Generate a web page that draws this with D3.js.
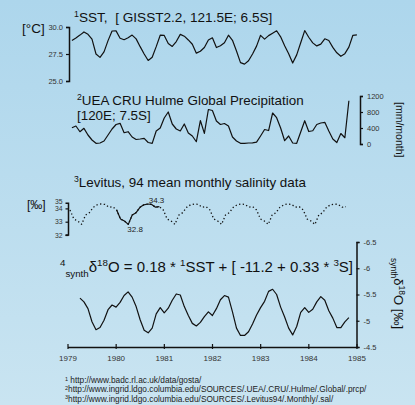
<!DOCTYPE html>
<html>
<head>
<meta charset="utf-8">
<script src="https://cdn.jsdelivr.net/npm/d3@7"></script>
<style>
  body { margin: 0; }
  svg { display: block; font-family: "Liberation Sans", Arial, sans-serif; }
  text { white-space: pre; }
</style>
</head>
<body>
<svg id="chart" width="415" height="405"></svg>
<script>
// monthly values, first month plotted just after Jan 1979
const sst = [28.76, 28.99, 29.25, 29.54, 29.32, 28.87, 27.5, 27.19, 27.7, 28.74, 29.63, 29.64,
  28.96, 28.82, 29.0, 29.25, 28.9, 28.18, 27.5, 26.9, 27.2, 28.18, 29.24, 29.22,
  28.48, 28.2, 28.65, 29.32, 29.15, 28.8, 28.4, 27.58, 27.75, 28.1, 28.8, 29.0,
  28.1, 28.27, 28.55, 29.24, 28.77, 27.78, 26.7, 26.56, 26.87, 27.5, 28.23, 29.23,
  28.88, 29.2, 29.42, 29.65, 29.09, 28.26, 27.53, 26.66, 27.42, 28.54, 29.67, 29.05,
  28.53, 28.25, 28.41, 28.91, 28.75, 28.11, 27.61, 27.29, 27.53, 28.14, 29.23, 29.27]

const precip = [407, 450, 307, 392, 225, 100, 17, 25, 75, 225, 375, 487,
  517, 282, 307, 175, 112, 125, 142, 37, 17, 325, 400, 650,
  800, 500, 375, 325, 500, 275, 200, 57, 587, 267, 862, 837,
  575, 487, 512, 450, 175, 75, 17, 17, 25, 30, 45, 200,
  362, 337, 775, 657, 400, 82, 200, 25, 17, 300, 582, 312,
  332, 487, 525, 542, 325, 125, 37, 262, 157, 1082]

// Levitus 94 monthly climatology, repeated for every year
const salClim = [33.88, 33.20, 33.05, 32.80, 33.50, 33.68, 34.08, 34.27, 34.33, 34.30, 34.09, 34.13]
const salYears = 6
const salSolidYear = 1

// synthetic d18O, starts third month
const synth = [-5.43, -5.36, -5.23, -4.98, -4.83, -4.87, -5.01, -5.21, -5.30, -5.26, -5.35, -5.48,
  -5.55, -5.45, -5.27, -5.02, -4.82, -4.77, -4.86, -5.13, -5.25, -5.15, -5.24, -5.39,
  -5.51, -5.49, -5.27, -5.10, -4.95, -4.90, -4.97, -5.08, -5.17, -5.10, -5.23, -5.40,
  -5.48, -5.45, -5.17, -4.86, -4.72, -4.72, -4.79, -4.94, -5.11, -5.25, -5.37, -5.56,
  -5.60, -5.50, -5.26, -5.07, -4.86, -4.73, -4.89, -5.16, -5.25, -5.16, -5.22, -5.36,
  -5.46, -5.39, -5.19, -5.05, -4.87, -4.87, -4.98, -5.06]
const synthStart = 2

const years = [1979, 1980, 1981, 1982, 1983, 1984, 1985]
const sstTicks = [25, 27.5, 30]
const preTicks = [0, 400, 800, 1200]
const salTicks = [32, 33, 34]
const synTicks = [-6.5, -6, -5.5, -5, -4.5]
const footnotes = [
  ["1", " http://www.badc.rl.ac.uk/data/gosta/"],
  ["2", "http://www.ingrid.ldgo.columbia.edu/SOURCES/.UEA/.CRU/.Hulme/.Global/.prcp/"],
  ["3", "http://www.ingrid.ldgo.columbia.edu/SOURCES/.Levitus94/.Monthly/.sal/"]
]

const svg = d3.select('#chart')

const grad = svg.append('defs').append('linearGradient')
    .attr('id', 'bg').attr('x1', 0).attr('y1', 0).attr('x2', 0).attr('y2', 1)
grad.append('stop').attr('offset', 0).attr('stop-color', '#add6ec')
grad.append('stop').attr('offset', 1).attr('stop-color', '#c9e4f1')
svg.append('rect').attr('width', 415).attr('height', 405).attr('fill', 'url(#bg)')

const x = d3.scaleLinear().domain([1979, 1985]).range([67.5, 356.5])
const monthDate = i => 1979 + (i + 1.1) / 12

const ySST = d3.scaleLinear().domain([25, 30]).range([81, 27])
const yPre = d3.scaleLinear().domain([0, 1200]).range([144, 96])
const ySal = d3.scaleLinear().domain([32, 34]).range([235, 208.4])
const ySyn = d3.scaleLinear().domain([-4.5, -6.5]).range([347, 242])
const xSal = d3.scaleLinear().domain([0, salYears * 12 - 1]).range([70, 346])

const lineStyle = sel => sel.attr('fill', 'none').attr('stroke', '#111').attr('stroke-width', 1.2)
  .attr('stroke-linejoin', 'round')

const axisStyle = (g, size) => {
  g.select('.domain').attr('stroke', '#111').attr('stroke-width', 1.5)
  g.selectAll('.tick line').attr('stroke', '#111').attr('stroke-width', 1.2)
  g.selectAll('.tick text').attr('fill', '#333').style('font-size', size + 'px')
}

// SST
svg.append('path').datum(sst).call(lineStyle)
  .attr('d', d3.line().x((d, i) => x(monthDate(i))).y(d => ySST(d)))

svg.append('g').attr('transform', 'translate(69,0)')
  .call(d3.axisLeft(ySST).tickValues(sstTicks).tickFormat(d3.format('.1f')).tickSize(3).tickPadding(3))
  .call(g => axisStyle(g, 7.5))

// precipitation
svg.append('path').datum(precip).call(lineStyle)
  .attr('d', d3.line().x((d, i) => x(monthDate(i))).y(d => yPre(d)))

svg.append('g').attr('transform', 'translate(360,0)')
  .call(d3.axisRight(yPre).tickValues(preTicks).tickFormat(d3.format('d')).tickSize(3).tickPadding(4))
  .call(g => axisStyle(g, 7.5))

// salinity
const salData = d3.range(salYears * 12).map(i => salClim[i % 12])
const salLine = d3.line().x((d, i) => xSal(i)).y(d => ySal(d))
svg.append('path').datum(salData).call(lineStyle)
  .attr('stroke-width', 1.3).attr('stroke-dasharray', '1.3,2.4')
  .attr('d', salLine)
svg.append('path').datum(salClim).call(lineStyle)
  .attr('d', d3.line().x((d, i) => xSal(i + salSolidYear * 12)).y(d => ySal(d)))

svg.append('g').attr('transform', 'translate(68.5,0)')
  .call(d3.axisLeft(ySal).tickValues(salTicks).tickFormat(d3.format('d')).tickSize(3).tickPadding(3))
  .call(g => axisStyle(g, 6.8))
  .call(g => {
    // axis was drawn up to the 35 mark in the original
    g.select('.domain').attr('d', 'M-3,203.3H0V235H-3')
    g.append('text').attr('x', -6).attr('y', 201.8).attr('dy', '0.32em')
      .attr('text-anchor', 'end').attr('fill', '#333').style('font-size', '6.8px').text('35')
  })

const salMax = d3.max(salClim), salMin = d3.min(salClim)
svg.append('text').attr('x', xSal(salSolidYear * 12 + salClim.indexOf(salMax)) + 1)
  .attr('y', ySal(salMax) - 1).attr('font-size', 8).attr('fill', '#222').text(d3.format('.1f')(salMax))
svg.append('text').attr('x', xSal(salSolidYear * 12 + salClim.indexOf(salMin)) - 1)
  .attr('y', ySal(salMin) + 8).attr('font-size', 8).attr('fill', '#222').text(d3.format('.1f')(salMin))

// synthetic d18O
svg.append('path').datum(synth).call(lineStyle)
  .attr('d', d3.line().x((d, i) => x(monthDate(i + synthStart))).y(d => ySyn(d)))

svg.append('g').attr('transform', 'translate(356.5,0)')
  .call(d3.axisRight(ySyn).tickValues(synTicks).tickFormat(d => d).tickSize(3).tickPadding(4))
  .call(g => axisStyle(g, 7.5))

// time axis
svg.append('g').attr('transform', 'translate(0,347)')
  .call(d3.axisBottom(x).tickValues(years).tickFormat(d3.format('d')).tickSize(3).tickSizeOuter(0).tickPadding(5))
  .call(g => axisStyle(g, 8))
  .call(g => g.selectAll('.tick line').attr('y1', -3).attr('y2', 2))

// titles
const title = (xp, yp, parts, size) => {
  const t = svg.append('text').attr('x', xp).attr('y', yp).attr('font-size', size).attr('fill', '#111')
  parts.forEach(([s, kind]) => {
    const ts = t.append('tspan').text(s)
    if (kind === 'sup') ts.attr('font-size', size * 0.65).attr('dy', -size * 0.4)
    else if (kind === 'sub') ts.attr('font-size', size * 0.65).attr('dy', size * 0.3)
    if (kind === 'after-sup') ts.attr('dy', size * 0.4)
    if (kind === 'after-sub') ts.attr('dy', -size * 0.3)
    if (kind === 'sub-from-sup') ts.attr('font-size', size * 0.65).attr('dy', size * 0.7)
  })
  return t
}

title(74, 22, [['1', 'sup'], ['SST,  [ GISST2.2, 121.5E; 6.5S]', 'after-sup']], 13.6)
title(77, 105, [['2', 'sup'], ['UEA CRU Hulme Global Precipitation', 'after-sup']], 13.4)
title(77, 120, [['[120E; 7.5S]', '']], 13.4)
title(74, 187, [['3', 'sup'], ['Levitus, 94 mean monthly salinity data', 'after-sup']], 13.4)
title(60, 272, [['4', 'sup'], ['synth', 'sub-from-sup'], ['\u03b4', 'after-sub'], ['18', 'sup'],
  ['O = 0.18 * ', 'after-sup'], ['1', 'sup'], ['SST + [ -11.2 + 0.33 * ', 'after-sup'],
  ['3', 'sup'], ['S]', 'after-sup']], 15)

// unit labels
svg.append('text').attr('x', 22).attr('y', 33).attr('font-size', 13.5).attr('fill', '#111').text('[°C]')
svg.append('text').attr('x', 27).attr('y', 209).attr('font-size', 12).attr('fill', '#111').text('[‰]')
svg.append('text').attr('transform', 'translate(396,102) rotate(90)')
  .attr('font-size', 10.5).attr('fill', '#111').text('[mm/month]')
const synLab = svg.append('text').attr('transform', 'translate(394,258) rotate(90)')
  .attr('font-size', 13).attr('fill', '#111')
synLab.append('tspan').attr('font-size', 8.5).attr('dy', 3).text('synth')
synLab.append('tspan').attr('dy', -3).text('\u03b4')
synLab.append('tspan').attr('font-size', 8.5).attr('dy', -5).text('18')
synLab.append('tspan').attr('dy', 5).text('O [‰]')

// footnotes
svg.append('g').selectAll('text').data(footnotes).join('text')
  .attr('x', 65).attr('y', (d, i) => 383 + i * 9.3)
  .attr('font-size', 8.3).attr('fill', '#222')
  .call(t => {
    t.append('tspan').attr('font-size', 5.5).attr('dy', -2.5).text(d => d[0])
    t.append('tspan').attr('dy', 2.5).text(d => d[1])
  })
</script>
</body>
</html>
